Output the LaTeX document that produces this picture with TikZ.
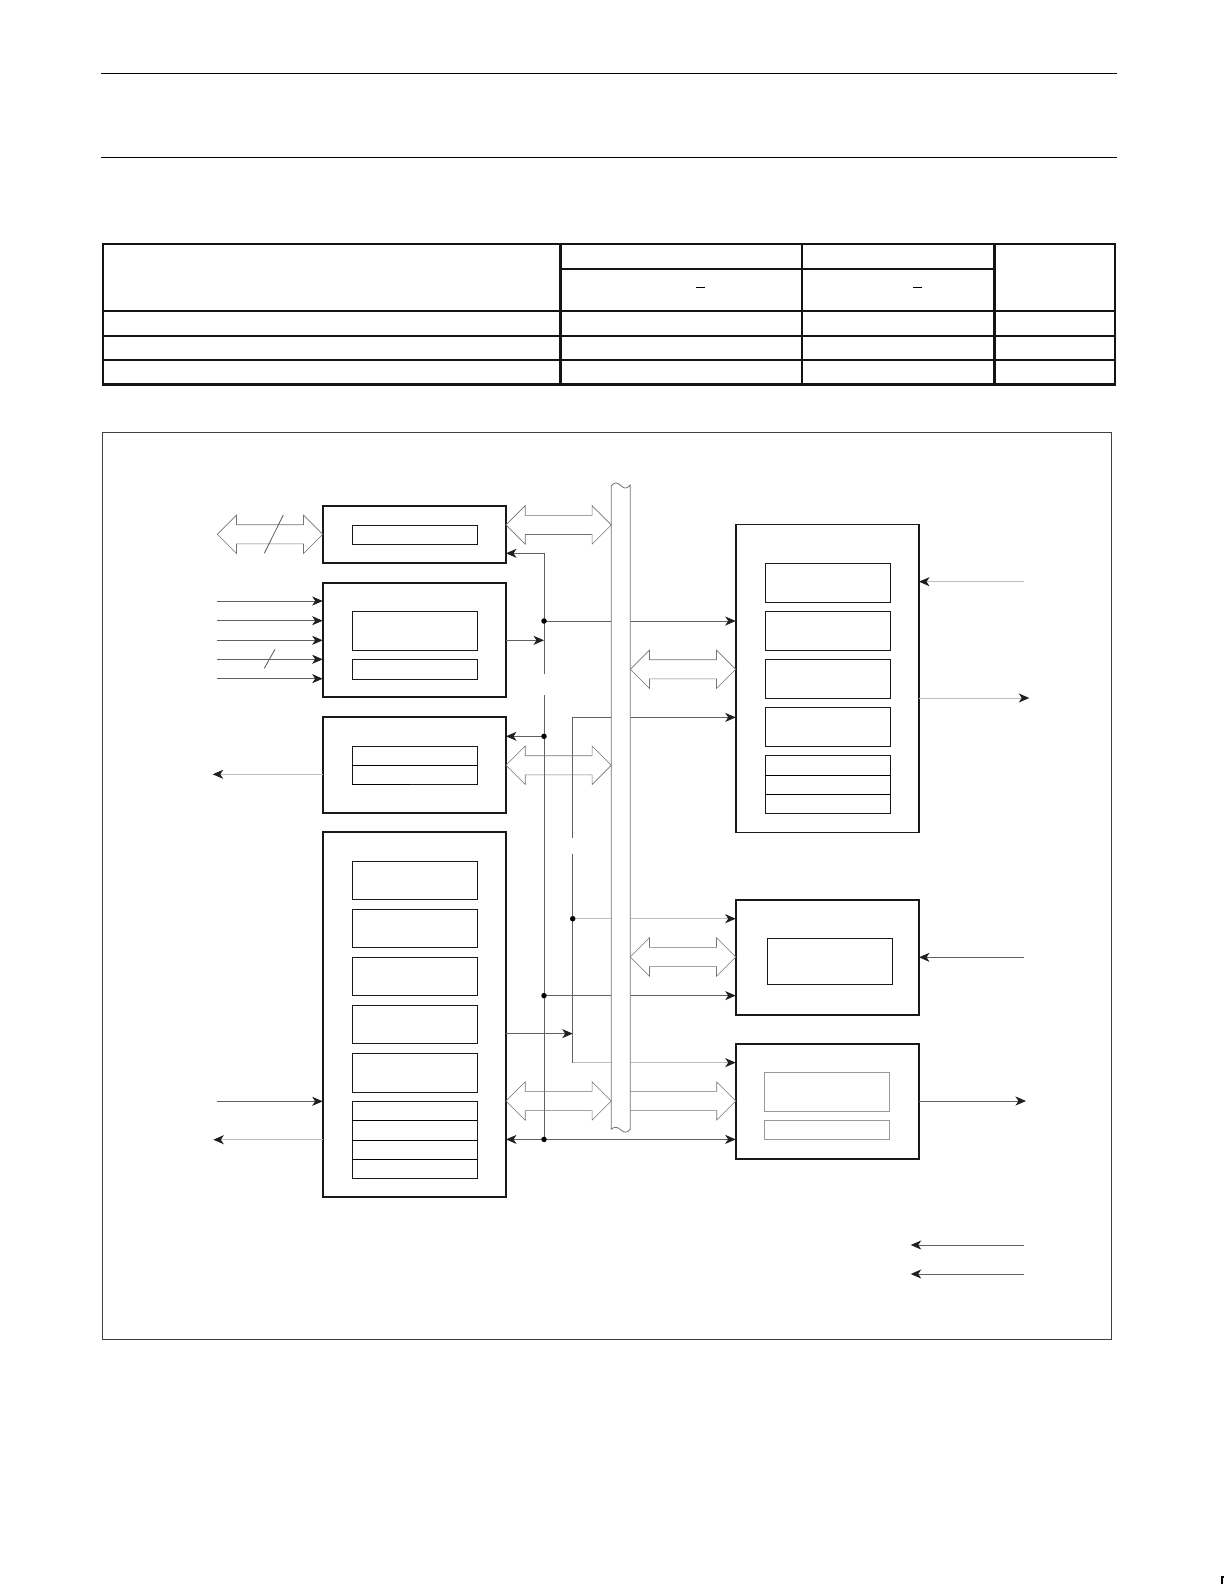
\documentclass[tikz,border=0pt]{standalone}
\usetikzlibrary{arrows.meta,calc}
\tikzset{
 bx/.style={draw=black!90, line width=1.6pt, inner sep=0pt, outer sep=0pt},
 ibx/.style={draw=black!90, line width=0.9pt, inner sep=0pt, outer sep=0pt},
 gbx/.style={draw=black!40, line width=0.9pt, inner sep=0pt, outer sep=0pt},
 conn/.style={draw=black!62, line width=0.85pt},
 lconn/.style={draw=black!25, line width=1pt},
 arr/.style={-{Stealth[length=10.5pt,width=9pt,inset=3pt,color=black!88]}},
 dotn/.style={circle, fill=black, inner sep=0pt, minimum size=5.5pt},
 fat/.style={draw=black!55, line width=0.6pt},
 tbl/.style={draw=black!92, line width=2.6pt},
}
\newcommand{\rbox}[6]{\node[#6, minimum width={#4-#2}, minimum height={#5-#3}] (#1) at ({(#2+#4)/2},{(#3+#5)/2}) {};}
\newcommand{\fatdbl}[3]{%
 \draw[fat] (#1,#3) -- ({#1+19.2},{#3-19.2}) -- ({#1+19.2},{#3-9.6}) -- ({#2-19.2},{#3-9.6}) -- ({#2-19.2},{#3-19.2}) -- (#2,#3)
   -- ({#2-19.2},{#3+19.2}) -- ({#2-19.2},{#3+9.6}) -- ({#1+19.2},{#3+9.6}) -- ({#1+19.2},{#3+19.2}) -- cycle;}
\begin{document}
\begin{tikzpicture}[x=1pt,y=-1pt]
\useasboundingbox (0,0) rectangle (1224,1584);
% page rules
\draw[line width=1.6pt] (101,73.7) -- (1117,73.7);
\draw[line width=1.6pt] (101,157.5) -- (1117,157.5);
% table
\draw[tbl] (103,244) rectangle (1115,384.5);
\draw[tbl] (560.5,244) -- (560.5,384.5);
\draw[tbl] (801.9,244) -- (801.9,384.5);
\draw[tbl] (994.7,244) -- (994.7,384.5);
\draw[tbl] (560.5,268.8) -- (994.7,268.8);
\draw[tbl] (103,311) -- (1115,311);
\draw[tbl] (103,335.8) -- (1115,335.8);
\draw[tbl] (103,360) -- (1115,360);
\draw[line width=1pt] (696,287) -- (705,287);
\draw[line width=1pt] (913,287) -- (922,287);
% frame
\draw[draw=black!75, line width=0.8pt] (102,432.2) rectangle (1110.9,1339);
% corner mark
\draw[line width=1.4pt] (1222,1584) -- (1222,1577) -- (1224,1577);

% boxes
\rbox{b1}{322.7}{505.7}{506}{563}{bx}
\rbox{b2}{322.7}{582.7}{506}{697}{bx}
\rbox{b3}{322.7}{716.7}{506}{812.7}{bx}
\rbox{b4}{322.7}{832}{506}{1196.7}{bx}
\rbox{b5}{735.7}{524.3}{919}{832.3}{bx}
\rbox{b6}{735.7}{899.7}{919}{1014.7}{bx}
\rbox{b7}{735.7}{1043.7}{919}{1158.7}{bx}
% inner boxes
\rbox{b1a}{352.3}{525.3}{477.3}{544.3}{ibx}
\rbox{b2a}{352.3}{611}{477.3}{650.3}{ibx}
\rbox{b2b}{352.3}{659.3}{477.3}{679.3}{ibx}
\rbox{b3a}{352.3}{746.3}{477.3}{784.3}{ibx}
\draw[line width=0.9pt] (b3a.west |- 0,765.3) -- (b3a.east |- 0,765.3);
\draw[line width=1.5pt] (352.3,784.5) -- (410,784.5);
\rbox{b4a}{352.3}{861.5}{477.3}{899.8}{ibx}
\rbox{b4b}{352.3}{909.5}{477.3}{947.8}{ibx}
\rbox{b4c}{352.3}{957.5}{477.3}{995.8}{ibx}
\rbox{b4d}{352.3}{1005.5}{477.3}{1043.8}{ibx}
\rbox{b4e}{352.3}{1053.5}{477.3}{1092}{ibx}
\rbox{b4f}{352.3}{1101.3}{477.3}{1178.3}{ibx}
\foreach \yy in {1120.3,1140.3,1159.3}{\draw[line width=0.9pt] (352.3,\yy) -- (477.3,\yy);}
\rbox{b5a}{765.3}{563.3}{890.3}{602.3}{ibx}
\rbox{b5b}{765.3}{611.3}{890.3}{650.3}{ibx}
\rbox{b5c}{765.3}{659.3}{890.3}{698.3}{ibx}
\rbox{b5d}{765.3}{707.3}{890.3}{746.3}{ibx}
\rbox{b5e}{765.3}{755.3}{890.3}{813.3}{ibx}
\foreach \yy in {775.3,794.3}{\draw[line width=0.9pt] (765.3,\yy) -- (890.3,\yy);}
\rbox{b6a}{767.3}{938.3}{892.3}{984.3}{ibx}
\rbox{b7a}{764.7}{1072.3}{889.7}{1111}{gbx}
\rbox{b7b}{764.7}{1120}{889.7}{1139.3}{gbx}

% internal bus lines
\coordinate (A0) at (544,553.3);
\coordinate (A1) at (544,621);
\coordinate (A2) at (544,640.3);
\coordinate (Ag1) at (544,674);
\coordinate (Ag2) at (544,695);
\coordinate (A3) at (544,736.3);
\coordinate (A4) at (544,995.6);
\coordinate (A5) at (544,1139.4);
\coordinate (B0) at (572.7,717.4);
\coordinate (Bg1) at (572.7,838);
\coordinate (Bg2) at (572.7,854);
\coordinate (B1) at (572.7,918.7);
\coordinate (B2) at (572.7,1033.6);
\coordinate (B3) at (572.7,1062.6);
\draw[conn,arr] (A0) -- (A0 -| b1.east);
\draw[conn] (A0) -- (Ag1);
\draw[conn] (Ag2) -- (A5);
\draw[conn,arr] (A1) -- (A1 -| b5.west);
\draw[conn,arr] (b2.east |- A2) -- (A2);
\draw[conn,arr] (A3) -- (A3 -| b3.east);
\draw[conn,arr] (A4) -- (A4 -| b6.west);
\draw[conn,arr] (A5) -- (A5 -| b4.east);
\draw[conn,arr] (A5) -- (A5 -| b7.west);
\draw[conn,arr] (B0) -- (B0 -| b5.west);
\draw[conn] (B0) -- (Bg1);
\draw[conn] (Bg2) -- (B3);
\draw[lconn,arr] (B1) -- (B1 -| b6.west);
\draw[conn,arr] (b4.east |- B2) -- (B2);
\draw[lconn,arr] (B3) -- (B3 -| b7.west);
\foreach \c in {A1,A3,A4,A5,B1}{\node[dotn] (d\c) at (\c) {};}

% bus
\filldraw[fill=white, draw=black!55, line width=0.8pt]
  (611.3,486) .. controls (614,482) and (617,482) .. (620.8,485.5) .. controls (624,489) and (627,489) .. (630.3,485)
  -- (630.3,1129.3) .. controls (627,1133) and (624,1133) .. (620.8,1129.8) .. controls (617,1126.5) and (614,1126.5) .. (611.3,1129.3) -- cycle;

% fat arrows
\fatdbl{217.3}{322.7}{534.3}
\draw[conn] (264.3,553.3) -- (283.3,515);
\fatdbl{506}{611.3}{524.9}
\fatdbl{506}{611.3}{765.3}
\fatdbl{630.3}{735.7}{669.3}
\fatdbl{630.3}{735.7}{957}
\fatdbl{506}{611.3}{1101}
\draw[fat] (630.3,1091.4) -- (716.7,1091.4) -- (716.7,1082) -- (735.7,1101) -- (716.7,1120) -- (716.7,1110.6) -- (630.3,1110.6);

% left side signals
\foreach \n/\yy in {1/601,2/620.7,3/640.3,4/659.3,5/678.7}{
  \coordinate (in\n) at (216.7,\yy);
  \draw[conn,arr] (in\n) -- (in\n -| b2.west);}
\draw[conn] (264.3,668.3) -- (275,649.3);
\coordinate (o3) at (212.7,774.3);
\draw[lconn,arr] (b3.west |- o3) -- (o3);
\coordinate (i4) at (216.7,1101.3);
\draw[conn,arr] (i4) -- (i4 -| b4.west);
\coordinate (o4) at (213.3,1139.7);
\draw[lconn,arr] (b4.west |- o4) -- (o4);

% right side signals
\coordinate (e1) at (1024.3,581.7);
\draw[lconn,arr] (e1) -- (e1 -| b5.east);
\coordinate (e2) at (1029.3,698);
\draw[lconn,arr] (b5.east |- e2) -- (e2);
\coordinate (e3) at (1024.3,957.3);
\draw[conn,arr] (e3) -- (e3 -| b6.east);
\coordinate (e4) at (1026,1101);
\draw[conn,arr] (b7.east |- e4) -- (e4);
% legend arrows
\coordinate (L1s) at (1024.3,1245);
\coordinate (L1e) at (910.7,1245);
\coordinate (L2s) at (1024.3,1274);
\coordinate (L2e) at (910.7,1274);
\draw[conn,arr] (L1s) -- (L1e);
\draw[conn,arr] (L2s) -- (L2e);
\end{tikzpicture}
\end{document}
